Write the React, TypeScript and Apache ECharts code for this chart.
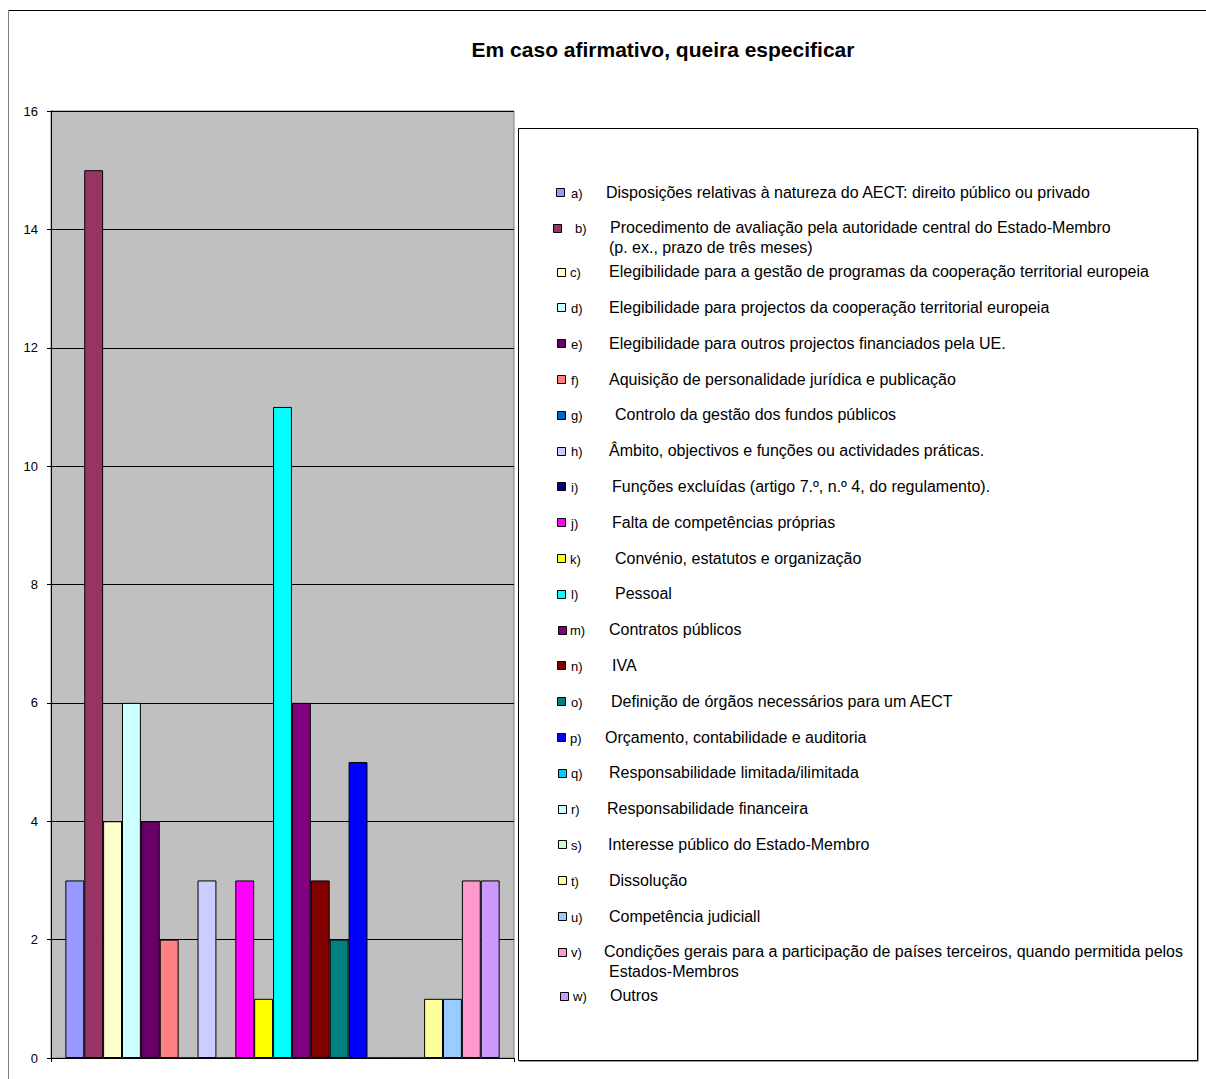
import React, { useEffect, useRef } from "react";
import * as echarts from "echarts";

const title = "Em caso afirmativo, queira especificar";
const letters = ["a)", "b)", "c)", "d)", "e)", "f)", "g)", "h)", "i)", "j)", "k)", "l)", "m)", "n)", "o)", "p)", "q)", "r)", "s)", "t)", "u)", "v)", "w)"];
const descriptions = [
  "Disposições relativas à natureza do AECT: direito público ou privado",
  "Procedimento de avaliação pela autoridade central do Estado-Membro\n(p. ex., prazo de três meses)",
  "Elegibilidade para a gestão de programas da cooperação territorial europeia",
  "Elegibilidade para projectos da cooperação territorial europeia",
  "Elegibilidade para outros projectos financiados pela UE.",
  "Aquisição de personalidade jurídica e publicação",
  "Controlo da gestão dos fundos públicos",
  "Âmbito, objectivos e funções ou actividades práticas.",
  "Funções excluídas (artigo 7.º, n.º 4, do regulamento).",
  "Falta de competências próprias",
  "Convénio, estatutos e organização",
  "Pessoal",
  "Contratos públicos",
  "IVA",
  "Definição de órgãos necessários para um AECT",
  "Orçamento, contabilidade e auditoria",
  "Responsabilidade limitada/ilimitada",
  "Responsabilidade financeira",
  "Interesse público do Estado-Membro",
  "Dissolução",
  "Competência judiciall",
  "Condições gerais para a participação de países terceiros, quando permitida pelos\nEstados-Membros",
  "Outros",
];
const values = [3, 15, 4, 6, 4, 2, 0, 3, 0, 3, 1, 11, 6, 3, 2, 5, 0, 0, 0, 1, 1, 3, 3];
const colors = [
  "#9999FF", "#993366", "#FFFFCC", "#CCFFFF", "#660066", "#FF8080", "#0066CC", "#CCCCFF",
  "#000080", "#FF00FF", "#FFFF00", "#00FFFF", "#800080", "#800000", "#008080", "#0000FF",
  "#00CCFF", "#CCFFFF", "#CCFFCC", "#FFFF99", "#99CCFF", "#FF99CC", "#CC99FF",
];

// legend layout (pixel positions of the text columns)
const descX = [606, 610, 609, 609, 609, 609, 615, 609, 612, 612, 615, 615, 609, 612, 611, 605, 609, 607, 608, 609, 609, 604, 610];
const markerX = [556, 553, 557, 557, 557, 557, 557, 557, 557, 557, 557, 557, 558, 557, 557, 557, 558, 558, 558, 558, 558, 558, 560];
const letterX = [571, 575, 570, 571, 571, 571, 571, 571, 571, 571, 570, 571, 570, 571, 571, 570, 571, 571, 571, 571, 571, 571, 573];

const FONT = "'Liberation Sans', Arial, Helvetica, sans-serif";

export default function App() {
  const ref = useRef<HTMLDivElement>(null);
  useEffect(() => {
    document.body.style.margin = "0";
    const chart = echarts.init(ref.current!, null, { renderer: "svg" });

    const graphics: any[] = [];
    // outer frame
    graphics.push({ type: "line", silent: true, shape: { x1: 8, y1: 10.5, x2: 1206, y2: 10.5 }, style: { stroke: "#000", lineWidth: 1 } });
    graphics.push({ type: "line", silent: true, shape: { x1: 8.5, y1: 10, x2: 8.5, y2: 1079 }, style: { stroke: "#808080", lineWidth: 1 } });
    // legend box
    graphics.push({ type: "rect", silent: true, shape: { x: 519.5, y: 129.5, width: 679, height: 932 }, style: { fill: "none", stroke: "#a0a0a0", lineWidth: 1 } });
    graphics.push({ type: "rect", silent: true, shape: { x: 518.5, y: 128.5, width: 679, height: 932 }, style: { fill: "#fff", stroke: "#000", lineWidth: 1 } });

    let y = 192;
    for (let i = 0; i < letters.length; i++) {
      const lines = descriptions[i].split("\n");
      graphics.push({
        type: "rect", silent: true,
        shape: { x: markerX[i] + 0.5, y: Math.round(y - 4) + 0.5, width: 8, height: 8 },
        style: { fill: colors[i], stroke: "#000", lineWidth: 1 },
      });
      graphics.push({
        type: "text", silent: true, x: letterX[i], y: y + 1,
        style: { text: letters[i], fill: "#000", fontSize: 13, fontFamily: FONT, verticalAlign: "middle", align: "left" },
      });
      lines.forEach((ln, k) => {
        graphics.push({
          type: "text", silent: true, x: k === 0 ? descX[i] : 609, y: y + k * 20,
          style: { text: ln, fill: "#000", fontSize: 16, fontFamily: FONT, verticalAlign: "middle", align: "left" },
        });
      });
      y += 35.8 + (lines.length - 1) * 8;
    }

    chart.setOption({
      animation: false,
      backgroundColor: "#fff",
      title: {
        text: title, left: 658, top: 34, textAlign: "center",
        textStyle: { fontSize: 21, fontWeight: "bold", fontFamily: FONT, color: "#000" },
      },
      grid: {
        left: 51, right: 692, top: 111, bottom: 21, show: true,
        backgroundColor: "#C0C0C0", borderColor: "#808080", borderWidth: 1,
      },
      xAxis: {
        type: "category", data: [""],
        axisLine: { lineStyle: { color: "#000", width: 1 } },
        axisTick: { show: true, length: 4, lineStyle: { color: "#000" } },
        axisLabel: { show: false },
        splitLine: { show: false },
      },
      yAxis: {
        type: "value", min: 0, max: 16, interval: 2,
        axisLine: { show: true, lineStyle: { color: "#000", width: 1 } },
        axisTick: { show: true, length: 4, lineStyle: { color: "#000" } },
        axisLabel: { color: "#000", fontSize: 13, fontFamily: FONT, margin: 13 },
        splitLine: { show: true, lineStyle: { color: "#000", width: 1 } },
      },
      series: letters.map((l, i) => ({
        type: "bar", name: l, data: [values[i]],
        barGap: "0%", barCategoryGap: "6.2%",
        itemStyle: { color: colors[i], borderColor: "#000", borderWidth: 1 },
      })),
      graphic: { elements: graphics },
    });
    return () => chart.dispose();
  }, []);
  return <div ref={ref} style={{ width: 1206, height: 1079 }} />;
}
